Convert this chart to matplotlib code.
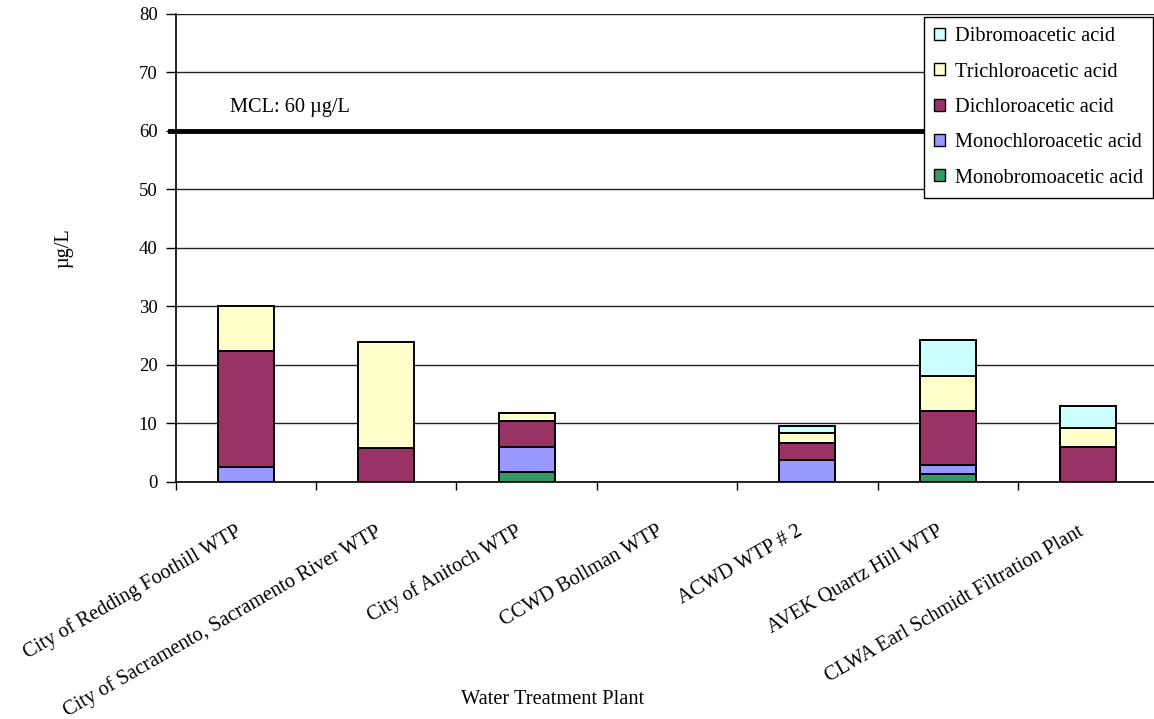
import matplotlib
matplotlib.use("Agg")
import matplotlib.pyplot as plt
import matplotlib.transforms as mtransforms
from matplotlib.patches import Patch
import numpy as np

plants = [
    "City of Redding Foothill WTP",
    "City of Sacramento, Sacramento River WTP",
    "City of Anitoch WTP",
    "CCWD Bollman WTP",
    "ACWD WTP # 2",
    "AVEK Quartz Hill WTP",
    "CLWA Earl Schmidt Filtration Plant",
]

# Haloacetic acid concentrations (µg/L), stacked bottom to top
monobromoacetic = [0.0, 0.0, 1.7, 0.0, 0.0, 1.3, 0.0]
monochloroacetic = [2.5, 0.0, 4.3, 0.0, 3.7, 1.5, 0.0]
dichloroacetic = [19.9, 5.7, 4.3, 0.0, 2.9, 9.3, 5.9]
trichloroacetic = [7.6, 18.2, 1.5, 0.0, 1.7, 6.0, 3.2]
dibromoacetic = [0.0, 0.0, 0.0, 0.0, 1.2, 6.1, 3.8]

series_names = ["Monobromoacetic acid", "Monochloroacetic acid",
                "Dichloroacetic acid", "Trichloroacetic acid",
                "Dibromoacetic acid"]
series_colors = ["#339966", "#9999FF", "#993366", "#FFFFCC", "#CCFFFF"]

mcl_value = 60
y_ticks = [0, 10, 20, 30, 40, 50, 60, 70, 80]

plt.rcParams["font.family"] = ["Liberation Serif", "DejaVu Serif"]

W, H = 1154, 719
fig = plt.figure(figsize=(W / 100, H / 100), dpi=100)
ax = fig.add_axes([175.6 / W, 1 - 481.7 / H, 982.8 / W, 468.0 / H])

x = np.arange(len(plants))
bottom = np.zeros(len(plants))
for name, color, vals in zip(series_names, series_colors,
                             [monobromoacetic, monochloroacetic, dichloroacetic,
                              trichloroacetic, dibromoacetic]):
    vals = np.array(vals)
    h = ax.bar(x, vals, width=0.4, bottom=bottom, color=color,
               edgecolor="black", linewidth=1.4, zorder=3, label=name)
    # empty segments leave no outline
    for patch, v in zip(h.patches, vals):
        if v == 0:
            patch.set_visible(False)
    bottom += vals

ax.set_xlim(-0.5, len(plants) - 0.5)
ax.set_ylim(0, 80)
ax.set_yticks(y_ticks)
ax.yaxis.grid(True, color="#222222", linewidth=1.0, zorder=0)
ax.set_axisbelow(True)

for s in ["top", "right"]:
    ax.spines[s].set_visible(False)
ax.spines["left"].set_linewidth(1.2)
ax.spines["bottom"].set_linewidth(1.2)

# x ticks at category boundaries, labels at category centres
label_fs = 14.7
ax.set_xticks(np.arange(len(plants) + 1) - 0.5)
ax.set_xticklabels([])
ax.set_xticks(x, minor=True)
ax.set_xticklabels(plants, minor=True, rotation=30, ha="right", va="center",
                   rotation_mode="anchor", fontsize=label_fs)
ax.tick_params(axis="x", which="minor", length=0, pad=35)
ax.tick_params(axis="x", which="major", length=6, width=1, direction="out")
ax.tick_params(axis="y", length=7, width=1, direction="out", labelsize=13.5, pad=6)
shift = mtransforms.ScaledTranslation(-6 / 100, 0, fig.dpi_scale_trans)
for lbl in ax.get_xticklabels(minor=True):
    lbl.set_transform(lbl.get_transform() + shift)

# MCL reference line
ax.axhline(mcl_value, xmin=-0.006, xmax=1, color="black", linewidth=3.5,
           zorder=4, clip_on=False)
ax.text(0.055, 64.0, "MCL: 60 µg/L", fontsize=label_fs, va="center",
        ha="left", zorder=5, transform=ax.get_yaxis_transform())

ax.set_ylabel("µg/L", fontsize=label_fs)
ax.yaxis.set_label_coords(-0.104, 0.5)
fig.text(553 / W, 1 - 699 / H, "Water Treatment Plant", fontsize=label_fs,
         ha="center", va="center")

legend_handles = [Patch(facecolor=c, edgecolor="black", linewidth=1.0)
                  for c in series_colors][::-1]
leg = ax.legend(legend_handles, series_names[::-1], loc="upper right",
                bbox_to_anchor=(1153 / W, 1 - 17 / H),
                bbox_transform=fig.transFigure, fontsize=label_fs, frameon=True,
                fancybox=False, edgecolor="black", framealpha=1,
                handlelength=0.55, handleheight=0.55, handletextpad=0.45,
                labelspacing=0.8, borderpad=0.5, borderaxespad=0)
leg.get_frame().set_linewidth(1.0)

fig.savefig("out.png", dpi=100)
